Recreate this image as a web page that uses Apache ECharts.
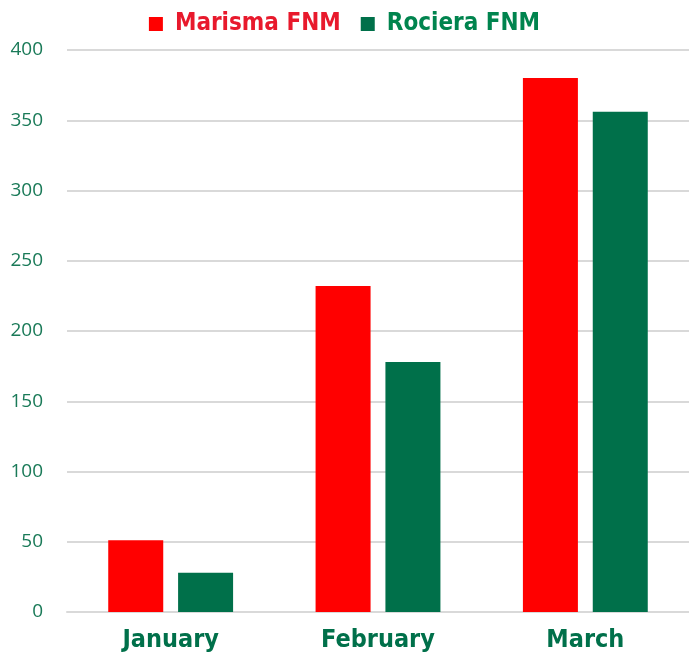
<!DOCTYPE html>
<html><head><meta charset="utf-8">
<script src="https://cdn.jsdelivr.net/npm/echarts@6/dist/echarts.min.js"></script>
<style>html,body{margin:0;padding:0;background:#fff}#c{width:689px;height:657px}</style>
</head><body><div id="c"></div>
<script>
const categories = ['January', 'February', 'March'];
const marisma = [51, 232, 380];
const rociera = [28, 178, 356];
const seriesNames = ['Marisma FNM', 'Rociera FNM'];

const chart = echarts.init(document.getElementById('c'));
const narrow = "'Liberation Sans Narrow', 'DejaVu Sans Condensed', 'Roboto', sans-serif";
chart.setOption({
  animation: false,
  backgroundColor: '#fff',
  legend: {
    top: 7, left: 'center',
    itemWidth: 14, itemHeight: 14, itemGap: 20,
    icon: 'rect',
    textStyle: { fontFamily: narrow, fontWeight: 'bold', fontSize: 24, padding: [0, 0, 0, 7] },
    data: [
      { name: seriesNames[0], textStyle: { color: '#E8192C' } },
      { name: seriesNames[1], textStyle: { color: '#00844E' } }
    ]
  },
  grid: { left: 67, width: 627, top: 50, bottom: 45, containLabel: false },
  xAxis: {
    type: 'category', data: categories,
    axisLine: { show: true, lineStyle: { color: '#d9d9d9', width: 2 } },
    axisTick: { show: false },
    axisLabel: { color: '#00704A', fontFamily: narrow, fontWeight: 'bold', fontSize: 25, margin: 16 }
  },
  yAxis: {
    type: 'value', min: 0, max: 400, interval: 50,
    axisLine: { show: false }, axisTick: { show: false },
    splitLine: { lineStyle: { color: '#d9d9d9', width: 2 } },
    axisLabel: { color: '#1A7A58', fontFamily: "'Open Sans', 'Noto Sans', sans-serif", fontSize: 19, margin: 24 }
  },
  series: [
    { name: seriesNames[0], type: 'bar', data: marisma, barWidth: 55, barGap: '27%', itemStyle: { color: '#FF0000' } },
    { name: seriesNames[1], type: 'bar', data: rociera, barWidth: 55, itemStyle: { color: '#00704A' } }
  ]
});
</script></body></html>
